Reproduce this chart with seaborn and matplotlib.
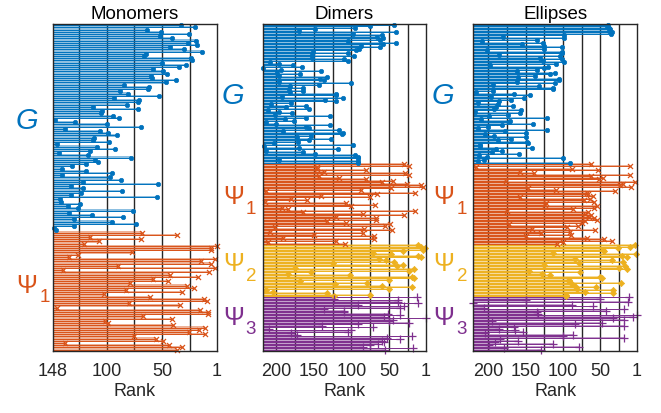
import numpy as np
import pandas as pd
import matplotlib
matplotlib.use("Agg")
import matplotlib.pyplot as plt
import seaborn as sns

sns.set_theme(style="white")
plt.rcParams["font.family"] = ["Liberation Sans", "DejaVu Sans"]

# ---------------- data (rank of each item, top row first) ----------------
mono_G = [33, 21, 64, 51, 26, 52, 41, 20, 27, 19, 43, 31, 14, 65, 66, 24, 23, 50, 29, 35,
          58, 49, 46, 60, 59, 38, 47, 84, 62, 63, 88, 81, 53, 93, 71, 72, 82, 112, 72, 104,
          105, 94, 89, 146, 128, 100, 69, 137, 106, 99, 91, 111, 112, 98, 144, 109, 92, 115, 143, 117,
          78, 110, 108, 118, 131, 140, 118, 95, 140, 97, 87, 121, 54, 132, 121, 86, 123, 132, 55, 142,
          141, 124, 135, 126, 76, 134, 113, 85, 129, 95, 74, 129, 147, 145]
mono_P1 = [68, 37, 115, 69, 107, 120, 1, 6, 6, 77, 126, 134, 3, 15, 6, 90, 3, 139, 8, 43,
           18, 58, 45, 79, 28, 22, 83, 32, 102, 61, 13, 10, 80, 34, 144, 16, 9, 9, 67, 41,
           101, 99, 40, 12, 17, 26, 12, 75, 56, 49, 137, 44, 32, 37]

dim_G = [43, 75, 96, 149, 170, 41, 98, 60, 66, 58, 62, 105, 41, 58, 87, 62, 90, 94, 151, 105,
         153, 97, 152, 110, 105, 208, 197, 178, 166, 217, 194, 141, 199, 168, 197, 133, 142, 137, 196, 101,
         143, 182, 164, 183, 164, 182, 120, 121, 193, 111, 135, 121, 181, 207, 161, 187, 156, 211, 197, 179,
         201, 129, 160, 188, 177, 214, 200, 129, 160, 157, 117, 191, 111, 113, 154, 173, 127, 157, 171, 203,
         98, 216, 170, 118, 213, 165, 148, 95, 91, 92, 196, 91, 92]
dim_P1 = [30, 24, 146, 146, 81, 137, 29, 23, 143, 116, 81, 45, 60, 26, 8, 5, 47, 88, 214, 16,
          66, 140, 75, 181, 159, 215, 107, 69, 100, 192, 184, 16, 164, 85, 30, 120, 67, 67, 132, 107,
          49, 55, 201, 83, 46, 208, 85, 150, 70, 191, 70, 120, 211, 109]
dim_P2 = [11, 8, 2, 5, 32, 72, 48, 12, 8, 63, 54, 43, 125, 31, 40, 175, 17, 24, 154, 185,
          102, 19, 17, 50, 168, 79, 122, 60, 19, 50, 214, 204, 133, 76, 123]
dim_P3 = [13, 123, 38, 38, 11, 91, 30, 36, 137, 110, 110, 52, 35, 57, 1, 45, 50, 23, 91, 139,
          71, 209, 100, 105, 180, 172, 19, 53, 35, 59, 57, 65, 76, 85, 18, 55]

ell_G = [40, 41, 39, 37, 38, 35, 36, 99, 180, 99, 135, 209, 127, 155, 126, 102, 126, 202, 101, 101,
         185, 104, 131, 102, 127, 98, 110, 197, 120, 125, 135, 162, 111, 117, 138, 160, 106, 106, 162, 111,
         194, 132, 113, 113, 194, 216, 166, 144, 196, 152, 170, 185, 214, 187, 167, 189, 192, 156, 218, 157,
         173, 199, 122, 210, 171, 172, 140, 182, 200, 214, 121, 177, 150, 205, 192, 150, 169, 187, 148, 147,
         211, 211, 142, 190, 181, 195, 159, 212, 202, 100, 206, 214, 90]
ell_P1 = [62, 10, 217, 88, 53, 157, 139, 11, 63, 47, 52, 176, 4, 20, 24, 9, 147, 110, 30, 68,
          66, 60, 157, 64, 72, 59, 123, 124, 54, 58, 87, 175, 66, 70, 62, 65, 59, 54, 70, 75,
          172, 80, 95, 142, 57, 91, 130, 89, 150, 68, 45, 35, 100, 108]
ell_P2 = [4, 10, 27, 46, 45, 113, 3, 21, 14, 84, 35, 20, 78, 125, 17, 25, 15, 145, 77, 128,
          117, 50, 48, 92, 92, 23, 88, 84, 56, 81, 33, 70, 33, 96, 96]
ell_P3 = [12, 50, 150, 13, 220, 88, 60, 206, 18, 43, 135, 134, 1, 7, 33, 18, 195, 48, 84, 18,
          165, 185, 164, 153, 204, 86, 100, 18, 184, 160, 191, 114, 199, 79, 179, 130]

titles = ["Monomers", "Dimers", "Ellipses"]
max_rank = [148, 218, 220]
ticks = [[148, 100, 50, 1], [200, 150, 100, 50, 1], [200, 150, 100, 50, 1]]
group_names = ["G", "Ψ1", "Ψ2", "Ψ3"]

panels = [
    [("G", mono_G), ("Ψ1", mono_P1)],
    [("G", dim_G), ("Ψ1", dim_P1), ("Ψ2", dim_P2), ("Ψ3", dim_P3)],
    [("G", ell_G), ("Ψ1", ell_P1), ("Ψ2", ell_P2), ("Ψ3", ell_P3)],
]

COL = {"G": "#0072BD", "Ψ1": "#D95319", "Ψ2": "#EDB120", "Ψ3": "#7E2F8E"}
MARK = {"G": "o", "Ψ1": "x", "Ψ2": "D", "Ψ3": "+"}
MSIZE = {"G": 10, "Ψ1": 13, "Ψ2": 10, "Ψ3": 26}

W, H = 661, 414
fig = plt.figure(figsize=(W / 100, H / 100), dpi=100)

ax_px = [(53, 217), (262.7, 426), (473.3, 637)]
top_px, bot_px = 25, 351.7


def fx(x):
    return x / W


def fy(y):
    return 1 - y / H


for pi, (groups, xmax, tk, title) in enumerate(zip(panels, max_rank, ticks, titles)):
    l, r = ax_px[pi]
    ax = fig.add_axes([fx(l), fy(bot_px), fx(r - l), fy(top_px) - fy(bot_px)])
    frames = []
    start = 0
    for name, vals in groups:
        v = np.clip(np.array(vals, dtype=float), 1, xmax)
        rows = np.arange(start, start + len(v))
        frames.append(pd.DataFrame({"rank": v, "row": rows, "group": name}))
        start += len(v)
    df = pd.concat(frames, ignore_index=True)
    n = len(df)

    for v in range(25, xmax, 25):
        ax.axvline(v, color="#262626", lw=1.0, zorder=0.5)

    for name, sub in df.groupby("group", sort=False):
        c = COL[name]
        ax.barh(sub["row"], width=xmax - sub["rank"], left=sub["rank"], height=1.0,
                color=c, alpha=0.45, linewidth=0, zorder=1)
        ax.hlines(sub["row"], sub["rank"], xmax, color=c, lw=0.7, zorder=2)
        m = MARK[name]
        if m in ("x", "+"):
            sns.scatterplot(data=sub, x="rank", y="row", ax=ax, marker=m, color=c,
                            s=MSIZE[name], linewidth=0.9, zorder=4, clip_on=False, legend=False)
        else:
            sns.scatterplot(data=sub, x="rank", y="row", ax=ax, marker=m, color=c,
                            edgecolor=c, s=MSIZE[name], linewidth=0.5, zorder=4,
                            clip_on=False, legend=False)

    ax.set_xlim(xmax, 1)
    ax.set_ylim(n - 0.5, -0.5)
    ax.set_yticks([])
    ax.set_xticks(tk)
    ax.set_xticklabels([str(t) for t in tk], fontsize=13, color="#262626")
    ax.tick_params(axis="x", length=0, pad=8)
    ax.set_xlabel("Rank", fontsize=13, color="#262626", labelpad=2)
    ax.set_ylabel("")
    ax.set_title(title, fontsize=13.5, color="black", pad=4)
    for s in ax.spines.values():
        s.set_color("#262626")
        s.set_linewidth(1.0)
        s.set_zorder(6)


def lab(x, y, s, **kw):
    fig.text(fx(x), fy(y), s, ha="center", va="center", **kw)


# Monomers labels
lab(27, 121, "G", fontsize=21, style="italic", color=COL["G"])
lab(27, 286, "Ψ", fontsize=18, color=COL["Ψ1"])
lab(45, 298, "1", fontsize=13.5, color=COL["Ψ1"])
# Dimers / Ellipses labels
for xc, xs in [(234, 251), (444, 462)]:
    lab(xc - 1, 96, "G", fontsize=21, style="italic", color=COL["G"])
    lab(xc, 197, "Ψ", fontsize=18, color=COL["Ψ1"])
    lab(xs, 210, "1", fontsize=13.5, color=COL["Ψ1"])
    lab(xc, 264, "Ψ", fontsize=18, color=COL["Ψ2"])
    lab(xs, 277, "2", fontsize=13.5, color=COL["Ψ2"])
    lab(xc, 318, "Ψ", fontsize=18, color=COL["Ψ3"])
    lab(xs, 330, "3", fontsize=13.5, color=COL["Ψ3"])

fig.savefig("out.png", dpi=100)
